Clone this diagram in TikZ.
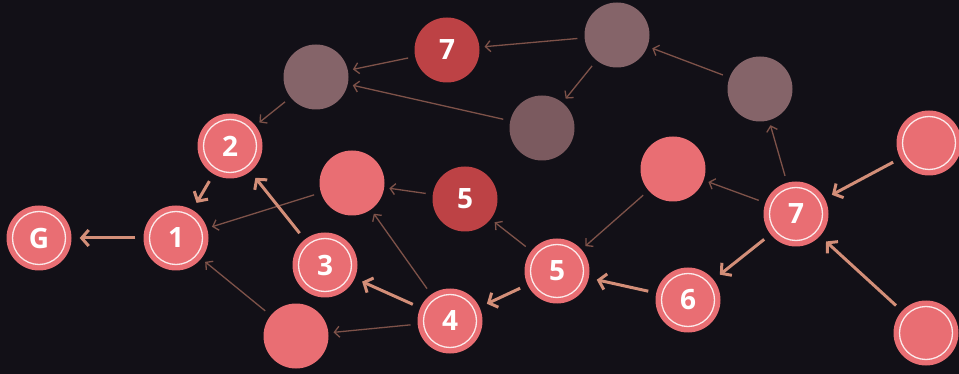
\documentclass[tikz,border=0pt]{standalone}
\usepackage{fontspec}
\setsansfont{Open Sans}
\usetikzlibrary{arrows.meta}
\definecolor{bgdark}{HTML}{121017}
\definecolor{pinkfill}{HTML}{E96E73}
\definecolor{redfill}{HTML}{BD4245}
\definecolor{greyfill}{HTML}{856469}
\definecolor{greydark}{HTML}{7B5A5F}
\definecolor{thickarc}{HTML}{D38E78}
\definecolor{thinarc}{HTML}{7E5249}
\tikzstyle{state}=[circle,inner sep=0,minimum size=65pt,fill=pinkfill,
  text=white,font=\sffamily\bfseries\fontsize{28}{28}\selectfont]
\tikzstyle{ringed}=[path picture={\draw [white,opacity=0.85,line width=1.3pt]
  (path picture bounding box.center) circle (26.5pt);}]
\tikzstyle{mainarc}=[-{Straight Barb[length=7pt,width=16pt]},thickarc,
  line width=3pt,shorten >=8pt,shorten <=8pt]
\tikzstyle{sidearc}=[-{Straight Barb[length=5pt,width=11pt]},thinarc,
  line width=1.3pt,shorten >=5pt,shorten <=7pt]

\begin{document}
\begin{tikzpicture}[x=1pt,y=-1pt,
    path/.style={state,ringed},
    open/.style={state},
    best/.style={state,fill=redfill},
    stale/.style={state,fill=greyfill}
    ]
    \fill [bgdark] (0,0) rectangle (959,374);
    \useasboundingbox (0,0) rectangle (959,374);

    % nodes on the final path
    \node [path] (G) at (39,238) {G};
    \node [path] (n1) at (176,238) {1};
    \node [path] (n2) at (230,146) {2};
    \node [path] (n3) at (325,265) {3};
    \node [path] (n4) at (450,321) {4};
    \node [path] (n5) at (557,271) {5};
    \node [path] (n6) at (688,300) {6};
    \node [path] (n7) at (796,214) {7};
    \node [path] (srcTop) at (929,143) {};
    \node [path] (srcBot) at (926,333) {};

    % open and best nodes
    \node [open] (oLow) at (296,336) {};
    \node [open] (oMid) at (352,183) {};
    \node [open] (oRight) at (673,169) {};
    \node [best] (b5) at (465,199) {5};
    \node [best] (b7) at (447,50) {7};

    % stale nodes
    \node [stale] (sLeft) at (316,77) {};
    \node [stale] (sTop) at (617,35) {};
    \node [stale,fill=greydark] (sMid) at (542,128) {};
    \node [stale] (sRight) at (760,89) {};

    % side branches
    \draw [sidearc] (oMid) -- (n1);
    \draw [sidearc] (oLow) -- (n1);
    \draw [sidearc] (b5) -- (oMid);
    \draw [sidearc] (n4) -- (oMid);
    \draw [sidearc] (n4) -- (oLow);
    \draw [sidearc] (n5) -- (b5);
    \draw [sidearc] (oRight) -- (n5);
    \draw [sidearc] (n7) -- (oRight);
    \draw [sidearc] (n7) -- (sRight);
    \draw [sidearc] (sRight) -- (sTop);
    \draw [sidearc] (sTop) -- (b7);
    \draw [sidearc] (sTop) -- (sMid);
    \draw [sidearc] (b7) -- (sLeft);
    \draw [sidearc] (sMid) -- (sLeft);
    \draw [sidearc] (sLeft) -- (n2);

    % final path
    \draw [mainarc] (n1) -- (G);
    \draw [mainarc] (n2) -- (n1);
    \draw [mainarc] (n3) -- (n2);
    \draw [mainarc] (n4) -- (n3);
    \draw [mainarc] (n5) -- (n4);
    \draw [mainarc] (n6) -- (n5);
    \draw [mainarc] (n7) -- (n6);
    \draw [mainarc] (srcTop) -- (n7);
    \draw [mainarc] (srcBot) -- (n7);
\end{tikzpicture}
\end{document}
